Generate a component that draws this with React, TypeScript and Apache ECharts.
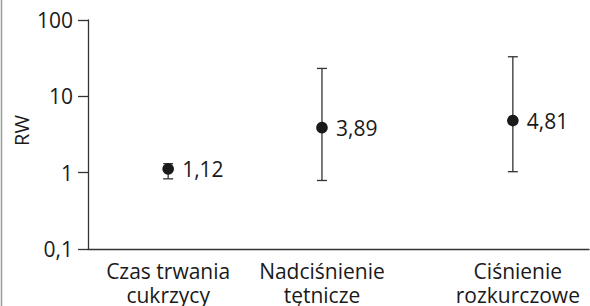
import React, { useEffect, useRef } from "react";
import * as echarts from "echarts";

const categories = ["Czas trwania\ncukrzycy", "Nadciśnienie\ntętnicze", "Ciśnienie\nrozkurczowe"];
const xPositions = [16.0, 46.7, 84.8];
const rwValues = [1.12, 3.89, 4.81];
const ciLow = [0.83, 0.79, 1.03];
const ciHigh = [1.31, 23.2, 33];
const valueLabels = ["1,12", "3,89", "4,81"];
const axisTitle = "RW";

const FONT = '"Open Sans", "Noto Sans", sans-serif';
const INK = "#1a1a1a";
const LABEL_SHIFT = [0, 0, 5];

export default function App() {
  const ref = useRef<HTMLDivElement>(null);
  useEffect(() => {
    if (!ref.current) return;
    const chart = echarts.init(ref.current, undefined, { renderer: "svg" });
    const data = categories.map((_, i) => [xPositions[i], rwValues[i], ciLow[i], ciHigh[i]]);
    chart.setOption({
      animation: false,
      backgroundColor: "#ffffff",
      grid: { left: 88, right: 1, top: 20, bottom: 57 },
      xAxis: {
        type: "value",
        min: 0,
        max: 100,
        axisLine: { show: true, onZero: false, lineStyle: { color: "#333", width: 1.3 } },
        axisTick: { show: false },
        axisLabel: { show: false },
        splitLine: { show: false },
      },
      yAxis: {
        type: "log",
        logBase: 10,
        min: 0.1,
        max: 100,
        axisLine: { show: true, lineStyle: { color: "#333", width: 1.3 } },
        axisTick: { show: true, length: 10, lineStyle: { color: "#333", width: 1.3 } },
        axisLabel: {
          margin: 15,
          fontFamily: FONT,
          fontSize: 21,
          color: INK,
          formatter: (v: number) => (v < 0.5 ? "0,1" : String(Math.round(v))),
        },
        splitLine: { show: false },
      },
      graphic: [
        {
          type: "line",
          shape: { x1: 1.5, y1: 0, x2: 1.5, y2: 306 },
          style: { stroke: "#9a9a9a", lineWidth: 1.5 },
        },
        {
          type: "text",
          x: 21,
          y: 130.5,
          rotation: Math.PI / 2,
          style: {
            text: axisTitle,
            fill: INK,
            font: `20px ${FONT}`,
            align: "center",
            verticalAlign: "middle",
          },
        },
      ],
      series: [
        {
          type: "custom",
          clip: false,
          data,
          renderItem: (params: any, api: any) => {
            const x = api.value(0);
            const pC = api.coord([x, api.value(1)]);
            const pL = api.coord([x, api.value(2)]);
            const pH = api.coord([x, api.value(3)]);
            const base = api.coord([x, 0.1]);
            const idx = params.dataIndex;
            const stroke = { stroke: "#333", lineWidth: 1.3 };
            return {
              type: "group",
              children: [
                { type: "line", shape: { x1: pL[0], y1: pL[1], x2: pH[0], y2: pH[1] }, style: stroke },
                { type: "line", shape: { x1: pL[0] - 5, y1: pL[1], x2: pL[0] + 5, y2: pL[1] }, style: stroke },
                { type: "line", shape: { x1: pH[0] - 5, y1: pH[1], x2: pH[0] + 5, y2: pH[1] }, style: stroke },
                { type: "circle", shape: { cx: pC[0], cy: pC[1], r: 5.8 }, style: { fill: INK } },
                {
                  type: "text",
                  x: pC[0] + 14,
                  y: pC[1],
                  style: {
                    text: valueLabels[idx],
                    fill: INK,
                    font: `21px ${FONT}`,
                    align: "left",
                    verticalAlign: "middle",
                  },
                },
                {
                  type: "text",
                  x: base[0] + LABEL_SHIFT[idx],
                  y: base[1] + 10,
                  style: {
                    text: categories[idx],
                    fill: INK,
                    font: `21px ${FONT}`,
                    lineHeight: 24,
                    align: "center",
                    verticalAlign: "top",
                  },
                },
              ],
            };
          },
        },
      ],
    });
    return () => chart.dispose();
  }, []);
  return (
    <div
      ref={ref}
      style={{ position: "absolute", left: 0, top: 0, width: 590, height: 306 }}
    />
  );
}
